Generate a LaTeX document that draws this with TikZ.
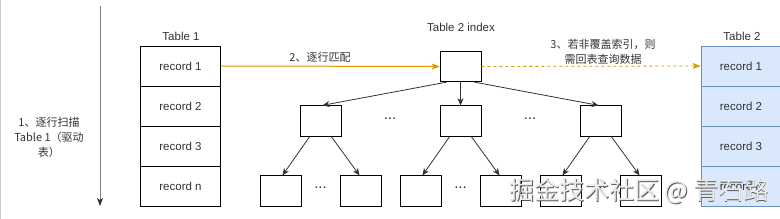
\documentclass[tikz,border=0pt]{standalone}
\usepackage{fontspec}
\setmainfont{Liberation Sans}
\newfontfamily\cjk{Noto Sans CJK SC}
\usetikzlibrary{arrows.meta}
\definecolor{txt}{HTML}{333333}
\definecolor{orng}{HTML}{D79B00}
\definecolor{bfill}{HTML}{DAE8FC}
\definecolor{bdraw}{HTML}{6C8EBF}
\tikzset{
  rec/.style={draw=black, line width=0.8pt, minimum width=80pt, minimum height=40pt, inner sep=0pt, text=txt, font=\fontsize{11.5}{13}\selectfont},
  recb/.style={rec, draw=bdraw, fill=bfill},
  ibox/.style={draw=black, line width=0.8pt, minimum width=41pt, minimum height=30.5pt, inner sep=0pt},
  lbl/.style={text=txt, font=\fontsize{11.5}{13}\selectfont, inner sep=0pt},
  clbl/.style={text=txt, font=\cjk\fontsize{11}{15}\selectfont, inner sep=0pt, align=center},
  conn/.style={draw=txt, line width=0.8pt, -{Stealth[length=7pt,width=6pt,inset=2pt]}},
  dots/.style={text=txt, font=\fontsize{15}{16}\selectfont, inner sep=0pt},
}
\begin{document}
\begin{tikzpicture}[x=1pt,y=-1pt]
\useasboundingbox (0,0) rectangle (780,219);
\clip (0,0) rectangle (780,219);
\fill[white] (0,0) rectangle (780,219);
\draw[draw=black!20, line width=0.8pt] (0.6,0) -- (0.6,219);
% scan arrow
\coordinate (s0) at (100,6);
\coordinate (s1) at (100,206);
\draw[draw=black!50, line width=1pt, -{Stealth[length=8pt,width=6pt,inset=2pt,color=black!80]}] (s0) -- (s1);
\node[clbl] (scan) at (49,137) {1、逐行扫描\\Table 1（驱动\\表）};
% table 1
\node[lbl] (t1lab) at (181,36) {Table 1};
\node[rec] (a1) at (180.5,66) {record 1};
\node[rec] (a2) at (180.5,106) {record 2};
\node[rec] (a3) at (180.5,146) {record 3};
\node[rec] (a4) at (180.5,186) {record n};
% table 2
\node[lbl] (t2lab) at (742,36) {Table 2};
\node[recb] (b1) at (741,66) {record 1};
\node[recb] (b2) at (741,106) {record 2};
\node[recb] (b3) at (741,146) {record 3};
\node[recb] (b4) at (741,186) {record n};
% index
\node[lbl] (ilab) at (461,27) {Table 2 index};
\node[ibox] (r) at (460.5,66.5) {};
\node[ibox] (m1) at (320.5,121) {};
\node[ibox] (m2) at (460.5,121) {};
\node[ibox] (m3) at (600.5,121) {};
\node[ibox] (l1) at (280.5,191) {};
\node[ibox] (l2) at (360.5,191) {};
\node[ibox] (l3) at (420.5,191) {};
\node[ibox] (l4) at (500.5,191) {};
\node[ibox] (l5) at (560.5,191) {};
\node[ibox] (l6) at (640.5,191) {};
\node[dots] (d1) at (390,119) {...};
\node[dots] (d2) at (530,119) {...};
\node[dots] (d3) at (320.5,188) {...};
\node[dots] (d4) at (460.5,188) {...};
\node[dots] (d5) at (600.5,188) {...};
% connectors
\draw[conn] ([xshift=7pt]r.south west) -- ([xshift=2pt]m1.north);
\draw[conn] (r.south) -- (m2.north);
\draw[conn] ([xshift=-7pt]r.south east) -- ([xshift=-2pt]m3.north);
\draw[conn] ([xshift=10pt]m1.south west) -- ([xshift=2pt]l1.north);
\draw[conn] ([xshift=-10pt]m1.south east) -- ([xshift=-1pt]l2.north);
\draw[conn] ([xshift=10pt]m2.south west) -- ([xshift=2pt]l3.north);
\draw[conn] ([xshift=-10pt]m2.south east) -- ([xshift=-1pt]l4.north);
\draw[conn] ([xshift=10pt]m3.south west) -- ([xshift=2pt]l5.north);
\draw[conn] ([xshift=-10pt]m3.south east) -- ([xshift=-1pt]l6.north);
\draw[draw=orng, line width=1pt, -{Stealth[length=8pt,width=6pt,inset=2pt]}] (a1.east) -- (r.west);
\node[clbl] (match) at (320,57) {2、逐行匹配};
\draw[draw=orng, line width=0.8pt, dashed, -{Stealth[length=8pt,width=6pt,inset=2pt]}] (r.east) -- (b1.west);
\node[clbl] (back) at (603,51.5) {3、若非覆盖索引，则\\需回表查询数据};
% watermark
\node[text=black!65, font=\cjk\fontsize{25}{27}\selectfont, inner sep=0pt] (wm0) at (640,192) {掘金技术社区 @ 青石路};
\node[text=white!92!black, font=\cjk\fontsize{25}{27}\selectfont, inner sep=0pt] (wm) at (639.2,191.2) {掘金技术社区 @ 青石路};
\end{tikzpicture}
\end{document}
